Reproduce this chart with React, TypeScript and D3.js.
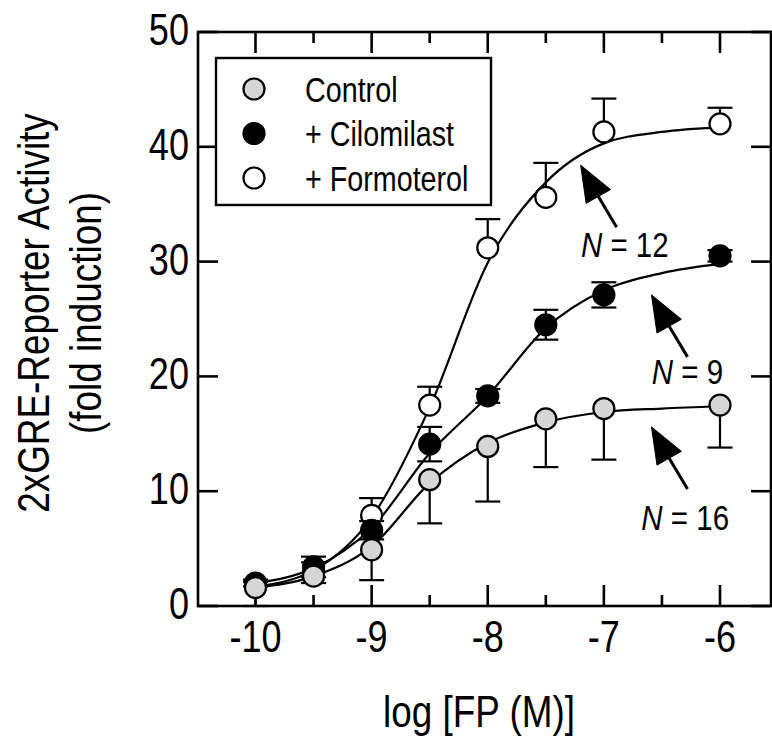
import React from 'react';
import * as d3 from 'd3';

// ---------- data ----------
const concentrations = [-10, -9.5, -9, -8.5, -8, -7.5, -7, -6];

const controlMean = [1.6, 2.6, 4.9, 11.0, 13.9, 16.3, 17.2, 17.5];
const controlErr = [1.6, 0.6, 2.65, 3.8, 4.8, 4.2, 4.45, 3.7];

const cilomilastMean = [2.0, 3.4, 6.6, 14.1, 18.3, 24.5, 27.1, 30.5];
const cilomilastErr = [0.3, 0.9, 0.8, 1.5, 0.6, 1.3, 1.1, 0.5];

const formoterolMean = [1.8, 3.0, 7.9, 17.5, 31.2, 35.6, 41.3, 42.0];
const formoterolErr = [0.3, 0.8, 1.5, 1.6, 2.5, 3.0, 2.9, 1.4];

// fitted curves
const fitConcentrations = [-10, -9.5, -9, -8.5, -8, -7.5, -7, -6.5, -6];
const controlFit = [1.6, 2.6, 5.2, 10.7, 14.2, 16.0, 16.9, 17.2, 17.4];
const cilomilastFit = [2.0, 3.3, 6.8, 13.3, 18.3, 24.2, 27.5, 29.0, 29.8];
const formoterolFit = [1.7, 3.1, 7.7, 17.3, 29.9, 36.9, 40.3, 41.3, 41.7];

const xMajorTicks = [-10, -9, -8, -7, -6];
const xMinorTicks = [-9.5, -8.5, -7.5, -6.5];
const xTickLabels = ['-10', '-9', '-8', '-7', '-6'];
const yTicks = [0, 10, 20, 30, 40, 50];
const yTickLabels = ['0', '10', '20', '30', '40', '50'];

const legendLabels = ['Control', '+ Cilomilast', '+ Formoterol'];

const annotationN = ['12', '9', '16'];
const annotationTipX = [-7.2, -6.59, -6.59];
const annotationTipY = [38.4, 27.1, 15.6];
const annotationTextX = [-6.82, -6.28, -6.3];
const annotationTextY = [30.4, 19.3, 6.65];

// ---------- layout ----------
const W = 772;
const H = 739;
const LEFT = 198;
const RIGHT = 771;
const TOP = 32;
const BOTTOM = 606;
const FONT = "'Liberation Sans', Arial, Helvetica, sans-serif";
const NARROW = 0.82;

const x = d3.scaleLinear().domain([-10, -6]).range([255.5, 720]);
const y = d3.scaleLinear().domain([0, 50]).range([BOTTOM, TOP]);

type Series = {
  name: string;
  mean: number[];
  err: number[];
  fit: number[];
  fill: string;
  up: boolean;
  down: boolean;
};

const series: Series[] = [
  { name: 'formoterol', mean: formoterolMean, err: formoterolErr, fit: formoterolFit, fill: '#ffffff', up: true, down: false },
  { name: 'cilomilast', mean: cilomilastMean, err: cilomilastErr, fit: cilomilastFit, fill: '#000000', up: true, down: true },
  { name: 'control', mean: controlMean, err: controlErr, fit: controlFit, fill: '#d6d6d6', up: false, down: true },
];

const legendFills = ['#d6d6d6', '#000000', '#ffffff'];

const R = 10.5;
const SW = 2.2;
const CAP = 12.5;

function NText(props: {
  x: number; y: number; size: number; anchor?: string; rotate?: number; sx?: number; children: React.ReactNode;
}) {
  const { x: tx, y: ty, size, anchor = 'start', rotate = 0, sx = NARROW, children } = props;
  return (
    <text
      transform={`translate(${tx},${ty}) rotate(${rotate}) scale(${sx},1)`}
      fontSize={size}
      fontFamily={FONT}
      textAnchor={anchor}
      fill="#000"
    >
      {children}
    </text>
  );
}

const line = d3
  .line<number>()
  .x((_, i) => x(fitConcentrations[i]))
  .y((d) => y(d))
  .curve(d3.curveMonotoneX);

export default function App() {
  return (
    <svg
      width={W}
      height={H}
      viewBox={`0 0 ${W} ${H}`}
      style={{ position: 'absolute', left: 0, top: 0, background: '#fff' }}
    >
      <rect x={0} y={0} width={W} height={H} fill="#fff" />

      {/* frame */}
      <rect x={LEFT} y={TOP} width={RIGHT - LEFT} height={BOTTOM - TOP} fill="none" stroke="#000" strokeWidth={2.6} />

      {/* x ticks (inward, top and bottom) */}
      {xMajorTicks.map((t) => (
        <g key={'xM' + t}>
          <line x1={x(t)} x2={x(t)} y1={BOTTOM} y2={BOTTOM - 21} stroke="#000" strokeWidth={2.6} />
          <line x1={x(t)} x2={x(t)} y1={TOP} y2={TOP + 21} stroke="#000" strokeWidth={2.6} />
        </g>
      ))}
      {xMinorTicks.map((t) => (
        <g key={'xm' + t}>
          <line x1={x(t)} x2={x(t)} y1={BOTTOM} y2={BOTTOM - 11} stroke="#000" strokeWidth={2.6} />
          <line x1={x(t)} x2={x(t)} y1={TOP} y2={TOP + 11} stroke="#000" strokeWidth={2.6} />
        </g>
      ))}
      {/* y ticks (inward, left and right) */}
      {yTicks.map((t) => (
        <g key={'y' + t}>
          <line x1={LEFT} x2={LEFT + 20} y1={y(t)} y2={y(t)} stroke="#000" strokeWidth={2.6} />
          <line x1={RIGHT} x2={RIGHT - 20} y1={y(t)} y2={y(t)} stroke="#000" strokeWidth={2.6} />
        </g>
      ))}

      {/* tick labels */}
      {xMajorTicks.map((t, i) => (
        <NText key={'xl' + t} x={x(t)} y={652} size={44} anchor="middle">
          {xTickLabels[i]}
        </NText>
      ))}
      {yTicks.map((t, i) => (
        <NText key={'yl' + t} x={189} y={y(t) + 13} size={44} anchor="end">
          {yTickLabels[i]}
        </NText>
      ))}

      {/* axis titles */}
      <NText x={479} y={727} size={45} anchor="middle">
        log [FP (M)]
      </NText>
      <NText x={49} y={313} size={45} anchor="middle" rotate={-90}>
        2xGRE-Reporter Activity
      </NText>
      <NText x={101} y={313} size={45} anchor="middle" rotate={-90}>
        (fold induction)
      </NText>

      {/* fitted curves */}
      {series.map((s) => (
        <path key={'c' + s.name} d={line(s.fit) || ''} fill="none" stroke="#000" strokeWidth={SW} />
      ))}

      {/* error bars and points */}
      {series.map((s) => (
        <g key={'p' + s.name}>
          {concentrations.map((c, i) => {
            const cx = x(c);
            const cy = y(s.mean[i]);
            const yu = y(s.mean[i] + s.err[i]);
            const yd = y(s.mean[i] - s.err[i]);
            return (
              <g key={i}>
                {s.up && (
                  <g>
                    <line x1={cx} x2={cx} y1={cy} y2={yu} stroke="#000" strokeWidth={SW} />
                    <line x1={cx - CAP} x2={cx + CAP} y1={yu} y2={yu} stroke="#000" strokeWidth={SW} />
                  </g>
                )}
                {s.down && (
                  <g>
                    <line x1={cx} x2={cx} y1={cy} y2={yd} stroke="#000" strokeWidth={SW} />
                    <line x1={cx - CAP} x2={cx + CAP} y1={yd} y2={yd} stroke="#000" strokeWidth={SW} />
                  </g>
                )}
                <circle cx={cx} cy={cy} r={R} fill={s.fill} stroke="#000" strokeWidth={SW} />
              </g>
            );
          })}
        </g>
      ))}

      {/* legend */}
      <rect x={216} y={58} width={275} height={147} fill="#fff" stroke="#000" strokeWidth={2.4} />
      {legendLabels.map((lab, i) => {
        const cy = 89 + i * 44.5;
        return (
          <g key={lab}>
            <circle cx={254} cy={cy} r={R} fill={legendFills[i]} stroke="#000" strokeWidth={SW} />
            <NText x={305} y={cy + 12.5} size={35}>
              {lab}
            </NText>
          </g>
        );
      })}

      {/* N annotations with arrows */}
      {annotationN.map((n, i) => {
        const tx = x(annotationTipX[i]);
        const ty = y(annotationTipY[i]);
        const w1x = tx + 29.9, w1y = ty + 24.4;
        const w2x = tx + 5.5, w2y = ty + 38.2;
        const bx = tx + 17.7, by = ty + 31.3;
        const ex = tx + 36, ey = ty + 62;
        return (
          <g key={'a' + n}>
            <line x1={bx} y1={by} x2={ex} y2={ey} stroke="#000" strokeWidth={3} />
            <polygon points={`${tx},${ty} ${w1x},${w1y} ${w2x},${w2y}`} fill="#000" stroke="#000" strokeWidth={1} />
            <NText x={x(annotationTextX[i])} y={y(annotationTextY[i])} size={36} anchor="middle">
              <tspan fontStyle="italic">N</tspan>
              <tspan> = {n}</tspan>
            </NText>
          </g>
        );
      })}
    </svg>
  );
}
